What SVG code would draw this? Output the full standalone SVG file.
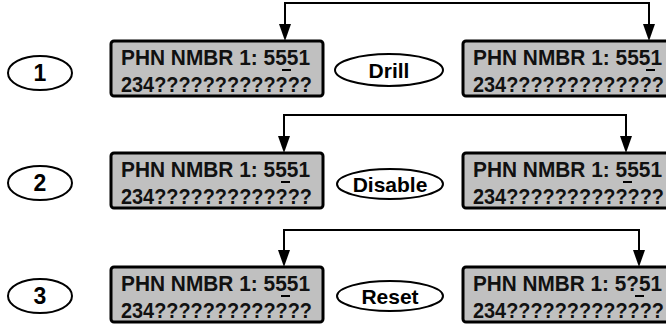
<svg xmlns="http://www.w3.org/2000/svg" width="666" height="324" viewBox="0 0 666 324">
<defs>
<style>
.lcd{fill:#c0c0c0;stroke:#000;stroke-width:3}
.t{font-family:"Liberation Sans",Arial,sans-serif;font-weight:bold;font-size:22px;fill:#111}
.lbl{font-family:"Liberation Sans",Arial,sans-serif;font-weight:bold;fill:#000;text-anchor:middle}
.ov{fill:none;stroke:#000;stroke-width:2}
.cn{fill:none;stroke:#000;stroke-width:2}
.ah{fill:#000}
.cur{fill:#000}
</style>
</defs>
<g id="connectors">
<path class="cn" d="M285,24 V3 H649 V24"/>
<path class="ah" d="M279,24 L291,24 L285,41 Z"/>
<path class="ah" d="M643,24 L655,24 L649,41 Z"/>
<path class="cn" d="M284,136 V115 H626 V136"/>
<path class="ah" d="M278,136 L290,136 L284,153 Z"/>
<path class="ah" d="M620,136 L632,136 L626,153 Z"/>
<path class="cn" d="M284,250 V230 H639 V250"/>
<path class="ah" d="M278,250 L290,250 L284,267 Z"/>
<path class="ah" d="M633,250 L645,250 L639,267 Z"/>
</g>
<g id="step1">
<ellipse class="ov" cx="40" cy="73" rx="32" ry="17"/>
<text class="lbl" x="40" y="81" font-size="23">1</text>
</g>
<g id="step2">
<ellipse class="ov" cx="40" cy="183" rx="32" ry="17"/>
<text class="lbl" x="40" y="191" font-size="23">2</text>
</g>
<g id="step3">
<ellipse class="ov" cx="40" cy="296" rx="32" ry="17"/>
<text class="lbl" x="40" y="304" font-size="23">3</text>
</g>
<g id="drill">
<ellipse class="ov" cx="389" cy="70" rx="54" ry="16"/>
<text class="lbl" x="389" y="78" font-size="21">Drill</text>
</g>
<g id="disable">
<ellipse class="ov" cx="390" cy="184" rx="53" ry="15"/>
<text class="lbl" x="390" y="192" font-size="21">Disable</text>
</g>
<g id="reset">
<ellipse class="ov" cx="390" cy="296" rx="53" ry="15"/>
<text class="lbl" x="390" y="304" font-size="21">Reset</text>
</g>
<g id="lcd1a">
<rect class="lcd" x="111" y="41" width="212" height="55" rx="3"/>
<text class="t" x="121" y="65" textLength="189" lengthAdjust="spacingAndGlyphs">PHN NMBR 1: 5551</text>
<text class="t" x="121" y="92" textLength="191" lengthAdjust="spacingAndGlyphs">234?????????????</text>
<rect class="cur" x="282" y="69" width="9" height="2"/>
</g>
<g id="lcd1b">
<rect class="lcd" x="463" y="41" width="212" height="55" rx="3"/>
<text class="t" x="473" y="65" textLength="189" lengthAdjust="spacingAndGlyphs">PHN NMBR 1: 5551</text>
<text class="t" x="473" y="92" textLength="191" lengthAdjust="spacingAndGlyphs">234?????????????</text>
<rect class="cur" x="646" y="69" width="9" height="2"/>
</g>
<g id="lcd2a">
<rect class="lcd" x="111" y="153" width="212" height="55" rx="3"/>
<text class="t" x="121" y="177" textLength="189" lengthAdjust="spacingAndGlyphs">PHN NMBR 1: 5551</text>
<text class="t" x="121" y="204" textLength="191" lengthAdjust="spacingAndGlyphs">234?????????????</text>
<rect class="cur" x="281" y="181" width="9" height="2"/>
</g>
<g id="lcd2b">
<rect class="lcd" x="463" y="153" width="212" height="55" rx="3"/>
<text class="t" x="473" y="177" textLength="189" lengthAdjust="spacingAndGlyphs">PHN NMBR 1: 5551</text>
<text class="t" x="473" y="204" textLength="191" lengthAdjust="spacingAndGlyphs">234?????????????</text>
<rect class="cur" x="623" y="181" width="9" height="2"/>
</g>
<g id="lcd3a">
<rect class="lcd" x="111" y="267" width="212" height="55" rx="3"/>
<text class="t" x="121" y="291" textLength="189" lengthAdjust="spacingAndGlyphs">PHN NMBR 1: 5551</text>
<text class="t" x="121" y="318" textLength="191" lengthAdjust="spacingAndGlyphs">234?????????????</text>
<rect class="cur" x="281" y="295" width="9" height="2"/>
</g>
<g id="lcd3b">
<rect class="lcd" x="463" y="267" width="212" height="55" rx="3"/>
<text class="t" x="473" y="291" textLength="189" lengthAdjust="spacingAndGlyphs">PHN NMBR 1: 5?51</text>
<text class="t" x="473" y="318" textLength="191" lengthAdjust="spacingAndGlyphs">234?????????????</text>
<rect class="cur" x="635" y="295" width="9" height="2"/>
</g>
</svg>
